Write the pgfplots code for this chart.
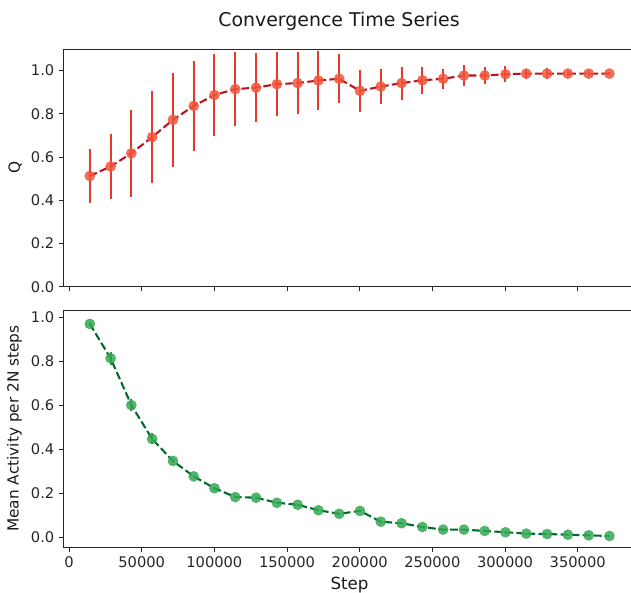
\documentclass[border=0pt]{standalone}
\usepackage{pgfplots}
\pgfplotsset{compat=1.18}
\usepackage{pgfplotstable}
\usepackage{fontspec}
\setmainfont{DejaVu Sans}
\definecolor{qmark}{HTML}{F2553B}
\definecolor{qerr}{HTML}{E52D22}
\definecolor{qline}{HTML}{B8141F}
\definecolor{amark}{HTML}{34A853}
\definecolor{aline}{HTML}{006A2B}

\pgfplotstableread{
x y e
14300 0.512 0.127
28600 0.556 0.150
42900 0.617 0.200
57200 0.692 0.214
71500 0.772 0.216
85800 0.836 0.209
100100 0.887 0.188
114400 0.914 0.170
128700 0.921 0.159
143000 0.937 0.147
157300 0.942 0.143
171600 0.954 0.135
185900 0.962 0.114
200200 0.906 0.097
214500 0.926 0.081
228800 0.942 0.076
243100 0.955 0.062
257400 0.962 0.047
271700 0.977 0.050
286000 0.977 0.040
300300 0.983 0.037
314600 0.986 0.023
328900 0.986 0.025
343200 0.986 0.012
357500 0.986 0.010
371800 0.986 0.006
}\qtable

\pgfplotstableread{
x y e
14300 0.970 0.008
28600 0.814 0.030
42900 0.601 0.028
57200 0.447 0.025
71500 0.347 0.010
85800 0.277 0.006
100100 0.223 0.006
114400 0.183 0.005
128700 0.180 0.005
143000 0.157 0.005
157300 0.148 0.005
171600 0.123 0.004
185900 0.107 0.004
200200 0.120 0.004
214500 0.071 0.004
228800 0.064 0.003
243100 0.047 0.003
257400 0.035 0.003
271700 0.035 0.003
286000 0.029 0.003
300300 0.023 0.002
314600 0.017 0.002
328900 0.015 0.002
343200 0.012 0.002
357500 0.009 0.002
371800 0.006 0.002
}\atable

\pgfplotsset{
  mystyle/.style={
    scale only axis,
    width=428.7pt,
    xmin=-3575, xmax=389675,
    xtick={0,50000,100000,150000,200000,250000,300000,350000},
    scaled x ticks=false,
    tick pos=left,
    tick align=outside,
    major tick length=3.6pt,
    axis line style={line width=0.6pt, black!85},
    every tick/.style={line width=0.6pt, black!85},
    tick label style={font=\fontsize{11}{13}\selectfont, text=black!85},
    /pgf/number format/assume math mode=true,
    xticklabel style={/pgf/number format/.cd, fixed, 1000 sep={}},
    yticklabel style={/pgf/number format/.cd, fixed, fixed zerofill, precision=1},
    ylabel style={font=\fontsize{11.5}{13}\selectfont, text=black!90},
    xlabel style={font=\fontsize{12.5}{14}\selectfont, text=black!90},
  }
}

\begin{document}
\begin{tikzpicture}
\begin{axis}[mystyle, name=top,
  height=178.3pt,
  ymin=0, ymax=1.1,
  ytick={0,0.2,0.4,0.6,0.8,1.0},
  xticklabels={},
  ylabel={Q},
]
\addplot[only marks, mark=*, mark size=3.75pt, mark options={fill=qmark, draw=qmark, fill opacity=0.85, draw opacity=0.85}] table[x=x,y=y] {\qtable};
\addplot[draw=none, mark=none,
  error bars/.cd, y dir=both, y explicit, error mark=none,
  error bar style={line width=1.5pt, color=qerr, opacity=0.95}]
  table[x=x, y=y, y error=e] {\qtable};
\addplot[qline, line width=1.56pt, dash pattern=on 5.8pt off 2.5pt, mark=none] table[x=x,y=y] {\qtable};
\end{axis}
\begin{axis}[mystyle, name=bot,
  at={(top.south west)}, anchor=north west, yshift=-17.5pt,
  height=177.75pt,
  ymin=-0.044, ymax=1.033,
  ytick={0,0.2,0.4,0.6,0.8,1.0},
  ylabel={Mean Activity per 2N steps},
  xlabel={Step},
]
\addplot[only marks, mark=*, mark size=3.75pt, mark options={fill=amark, draw=amark, fill opacity=0.85, draw opacity=0.85}] table[x=x,y=y] {\atable};
\addplot[draw=none, mark=none,
  error bars/.cd, y dir=both, y explicit, error mark=none,
  error bar style={line width=1.5pt, color=amark!80!black}]
  table[x=x, y=y, y error=e] {\atable};
\addplot[aline, line width=1.56pt, dash pattern=on 5.8pt off 2.5pt, mark=none] table[x=x,y=y] {\atable};
\end{axis}
\node[anchor=base, font=\fontsize{14.2}{16}\selectfont, text=black!90] at ([shift={(206.4pt,17pt)}]top.north west) {Convergence Time Series};
\pgfresetboundingbox
\path[use as bounding box] ([shift={(-47.85pt,-229.7pt)}]top.south west) rectangle ([shift={(425.4pt,215pt)}]top.south west);
\end{tikzpicture}
\end{document}
